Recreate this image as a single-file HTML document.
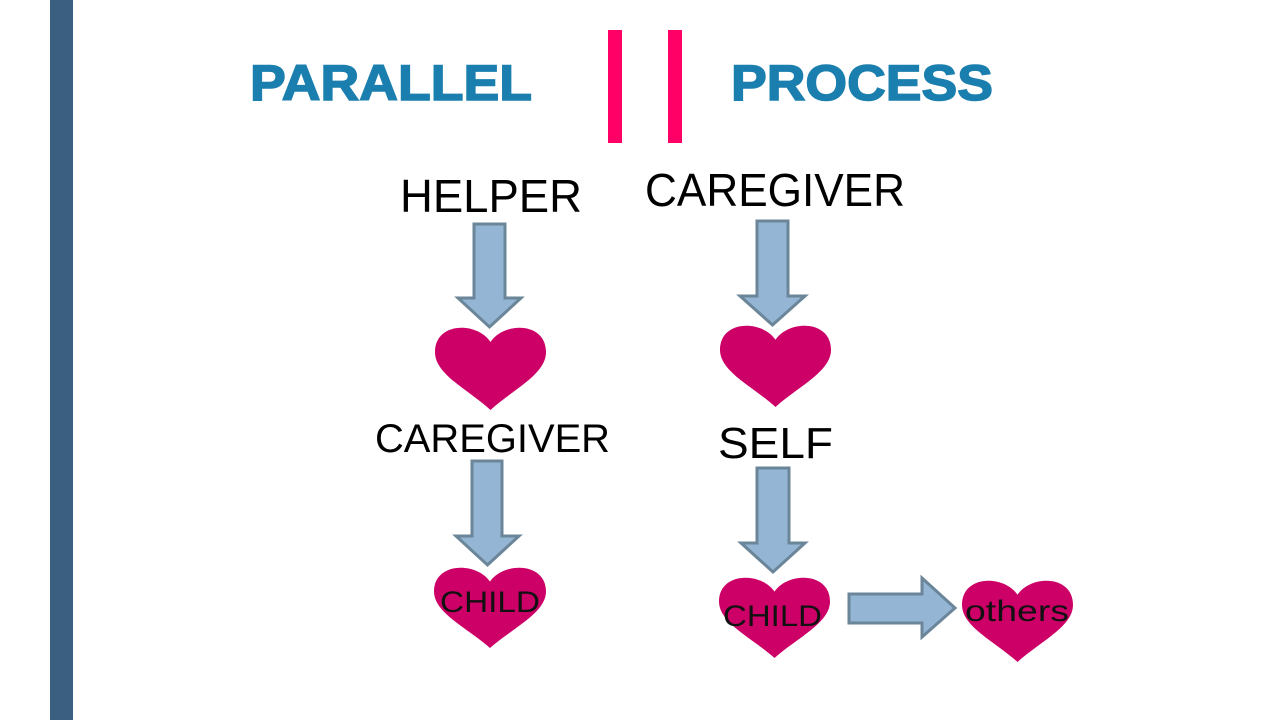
<!DOCTYPE html>
<html><head><meta charset="utf-8"><style>
html,body{margin:0;padding:0;background:#fff;}
svg{display:block;}
text{font-family:"Liberation Sans",Arial,sans-serif;}
</style></head><body>
<svg width="1280" height="720" viewBox="0 0 1280 720" xmlns="http://www.w3.org/2000/svg">
<defs>
<path id="h" d="M0.5,0.2 C0.38,-0.04 0,-0.04 0,0.32 C0,0.58 0.3,0.76 0.5,1 C0.7,0.76 1,0.58 1,0.32 C1,-0.04 0.62,-0.04 0.5,0.2 Z"/>
</defs>
<rect x="0" y="0" width="1280" height="720" fill="#fff"/>
<rect x="50" y="0" width="23" height="720" fill="#3a5f80"/>
<text x="250" y="100" font-size="50" font-weight="bold" fill="#1a7fae" textLength="282" lengthAdjust="spacingAndGlyphs" stroke="#1a7fae" stroke-width="1.5">PARALLEL</text>
<text x="731" y="100" font-size="50" font-weight="bold" fill="#1a7fae" textLength="262" lengthAdjust="spacingAndGlyphs" stroke="#1a7fae" stroke-width="1.5">PROCESS</text>
<rect x="608" y="30" width="14" height="113" fill="#ff0066"/>
<rect x="668" y="30" width="14" height="113" fill="#ff0066"/>
<text x="400" y="212" font-size="46" fill="#000" textLength="182" lengthAdjust="spacingAndGlyphs">HELPER</text>
<text x="645" y="206" font-size="46" fill="#000" textLength="260" lengthAdjust="spacingAndGlyphs">CAREGIVER</text>
<text x="375" y="452" font-size="40" fill="#000" textLength="235" lengthAdjust="spacingAndGlyphs">CAREGIVER</text>
<text x="718" y="458" font-size="44" fill="#000" textLength="115" lengthAdjust="spacingAndGlyphs">SELF</text>
<g fill="#94b5d4" stroke="#6b8599" stroke-width="3" stroke-linejoin="miter">
<polygon points="474,224 505,224 505,298 521,298 489.5,327 458,298 474,298"/>
<polygon points="757,221 788,221 788,296 805,296 772.5,325 740,296 757,296"/>
<polygon points="472,461 502,461 502,536 519,536 487.5,565 456,536 472,536"/>
<polygon points="757,468 789,468 789,543 805,543 773,572 741,543 757,543"/>
<polygon points="849,594 922,594 922,578 955,608 922,637 922,623 849,623"/>
</g>
<g fill="#cc0066">
<use href="#h" transform="translate(435,325) scale(111,85)"/>
<use href="#h" transform="translate(720,323) scale(111,84)"/>
<use href="#h" transform="translate(434,565) scale(112,83)"/>
<use href="#h" transform="translate(719,575) scale(111,83)"/>
<use href="#h" transform="translate(962,578) scale(111,84)"/>
</g>
<text x="440" y="612" font-size="30" fill="#111" textLength="100" lengthAdjust="spacingAndGlyphs">CHILD</text>
<text x="723" y="626" font-size="30" fill="#111" textLength="99" lengthAdjust="spacingAndGlyphs">CHILD</text>
<text x="965" y="621" font-size="30" fill="#111" textLength="104" lengthAdjust="spacingAndGlyphs">others</text>
</svg>
</body></html>
